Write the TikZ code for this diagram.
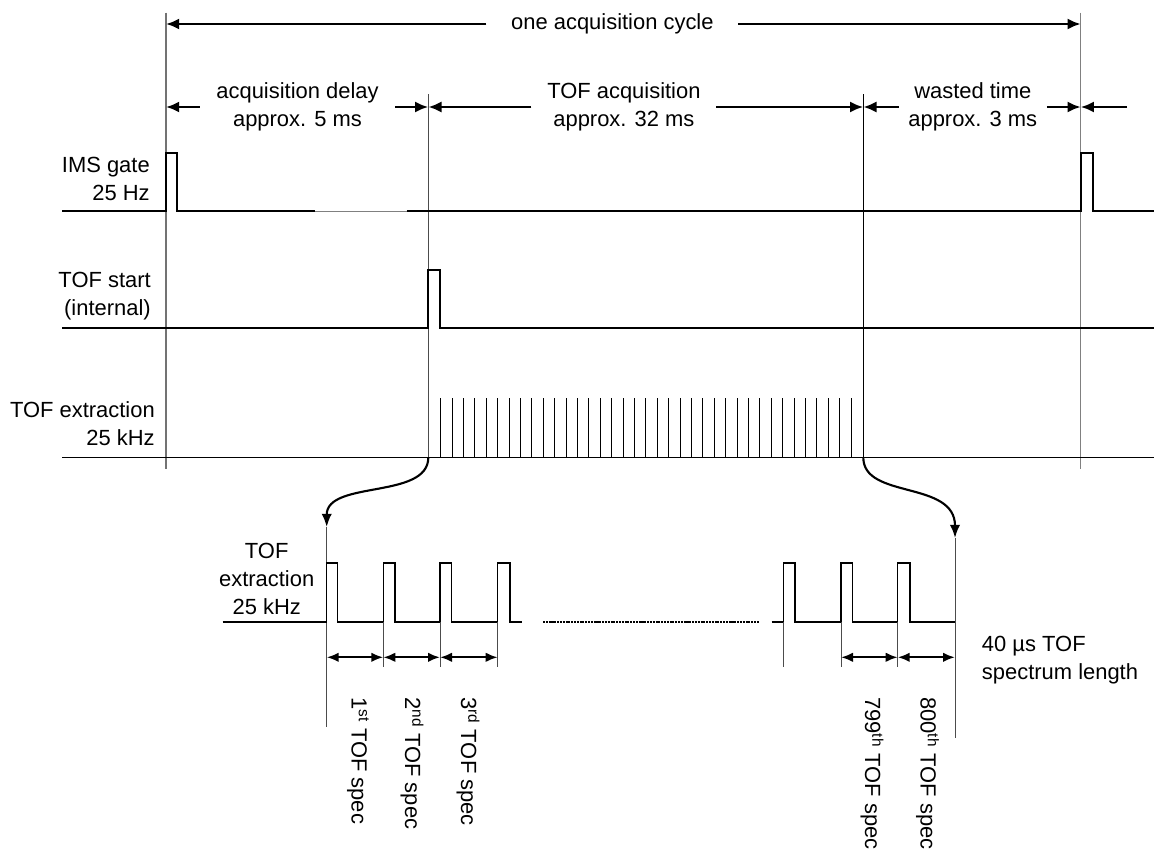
\documentclass[tikz,border=0pt]{standalone}
\usepackage{fontspec}
\setmainfont{Liberation Sans}
\usetikzlibrary{arrows.meta}

\begin{document}
\begin{tikzpicture}[x=0.025cm,y=-0.025cm,
    font=\fontsize{15.6pt}{19.9pt}\selectfont,
    lbl/.style={inner sep=0pt,align=right,anchor=east},
    dimtxt/.style={align=center,inner sep=0pt,minimum width=#1},
    dimarr/.style={line width=2pt,-{Latex[length=3.3mm,width=2.8mm]}},
    specarr/.style={line width=1.6pt,{Latex[length=3mm,width=2.4mm]}-{Latex[length=3mm,width=2.4mm]}},
    curvarr/.style={line width=1.5pt,-{Latex[length=3.3mm,width=2.6mm]}},
    sig/.style={line width=1.4pt},
    pulse/.style={line width=1pt},
    marker/.style={line width=0.6pt,black!70},
    tick/.style={line width=0.7pt}]
  \useasboundingbox (0,0) rectangle (1154,855);

  \coordinate (tA) at (166,12.7);
  \coordinate (tB) at (428.3,94);
  \coordinate (tC) at (863.3,94);
  \coordinate (tD) at (1080.7,12.7);
  \coordinate (bB) at (428.3,457.5);
  \coordinate (bC) at (863.3,457.5);
  \coordinate (sL) at (326.7,527);
  \coordinate (sR) at (955,538);
  \coordinate (nextcyc) at (1127,107);

  \draw[line width=1.2pt,black!55] (tA) -- (166,469);
  \draw[marker] (tB) -- (bB);
  \draw[line width=1.1pt] (tC) -- (bC);
  \draw[line width=0.6pt,black!50] (tD) -- (1080.7,469);

  \node[dimtxt=6.28cm] (cycle) at (612.4,24) {one acquisition cycle};
  \node[dimtxt=4.875cm] (delay) at (297.5,107) {acquisition delay\\approx. 5 ms};
  \node[dimtxt=4.61cm] (tofacq) at (623.9,107) {TOF acquisition\\approx. 32 ms};
  \node[dimtxt=3.69cm] (wasted) at (972.8,107) {wasted time\\approx. 3 ms};

  \draw[dimarr] (cycle.west) -- (cycle.west -| tA);
  \draw[dimarr] (cycle.east) -- (cycle.east -| tD);
  \draw[dimarr] (delay.west) -- (delay.west -| tA);
  \draw[dimarr] (delay.east) -- (delay.east -| tB);
  \draw[dimarr] (tofacq.west) -- (tofacq.west -| tB);
  \draw[dimarr] (tofacq.east) -- (tofacq.east -| tC);
  \draw[dimarr] (wasted.west) -- (wasted.west -| tC);
  \draw[dimarr] (wasted.east) -- (wasted.east -| tD);
  \draw[dimarr] (nextcyc) -- (nextcyc -| tD);

  \node[lbl] (imsl) at (150,179) {IMS gate\\25 Hz};
  \node[lbl] (startl) at (151,296) {TOF start\\(internal)};
  \node[lbl] (extrl) at (155,424) {TOF extraction\\25 kHz};

  \draw[sig] (62,211) -- (166,211) |- (176.7,152.7) |- (315,211);
  \draw[line width=0.6pt,black!50] (315,211) -- (406.7,211);
  \draw[sig] (406.7,211) -- (1080.7,211) |- (1093,152.7) |- (1154,211);

  \draw[sig] (62,328.3) -- (428.3,328.3) |- (440,270) |- (1154,328.3);

  \draw[sig] (62,457.5) -- (1154,457.5);
  \foreach \i in {0,...,36}
    \draw[tick] (440.7+\i*11.4,457.5) -- ++(0,-59.2);

  \draw[curvarr] (bB) .. controls +(0,42) and +(0,-47) .. (sL);
  \draw[curvarr] (bC) .. controls +(0,42) and +(0,-58) .. (sR);

  \node[align=center,inner sep=0pt] (extrl2) at (266.7,578.5) {TOF\\extraction\\25 kHz};

  \draw[marker] (sL) -- (326.7,726.7);
  \draw[marker] (sR) -- (955,738);
  \draw[pulse] (222.7,622) -| (326.7,563) -| (337.7,622) -| (383.3,563) -| (395,622)
    -| (440,563) -| (451.7,622) -| (497.7,563) -| (510,622) -- (521.7,622);
  \draw[line width=1.1pt,dash pattern=on 1.5pt off 0.5pt] (543,622) -- (759.3,622);
  \draw[pulse] (771.7,622) -| (783.3,563) -| (795,622) -| (841,563) -| (852.7,622)
    -| (897.7,563) -| (910,622) -- (955,622);
  \foreach \x in {383.3,440,497.7,783.3,841,897.7}
    \draw[marker] (\x,622) -- (\x,667);

  \coordinate (m1) at (326.7,657.3);
  \coordinate (m2) at (383.3,657.3);
  \coordinate (m3) at (440,657.3);
  \coordinate (m4) at (497.7,657.3);
  \coordinate (r1) at (841,657.3);
  \coordinate (r2) at (897.7,657.3);
  \coordinate (r3) at (955,657.3);
  \draw[specarr] (m1) -- (m2);
  \draw[specarr] (m2) -- (m3);
  \draw[specarr] (m3) -- (m4);
  \draw[specarr] (r1) -- (r2);
  \draw[specarr] (r2) -- (r3);

  \node[anchor=west,align=left,inner sep=0pt] (lenl) at (981.7,660) {40 µs TOF\\spectrum length};

  \node[rotate=-90,anchor=west,inner sep=0pt] (s1) at (358,697) {1\textsuperscript{st} TOF spec};
  \node[rotate=-90,anchor=west,inner sep=0pt] (s2) at (412,697) {2\textsuperscript{nd} TOF spec};
  \node[rotate=-90,anchor=west,inner sep=0pt] (s3) at (468,697) {3\textsuperscript{rd} TOF spec};
  \node[rotate=-90,anchor=west,inner sep=0pt] (s799) at (872,697) {799\textsuperscript{th} TOF spec};
  \node[rotate=-90,anchor=west,inner sep=0pt] (s800) at (927.5,697) {800\textsuperscript{th} TOF spec};
\end{tikzpicture}
\end{document}
